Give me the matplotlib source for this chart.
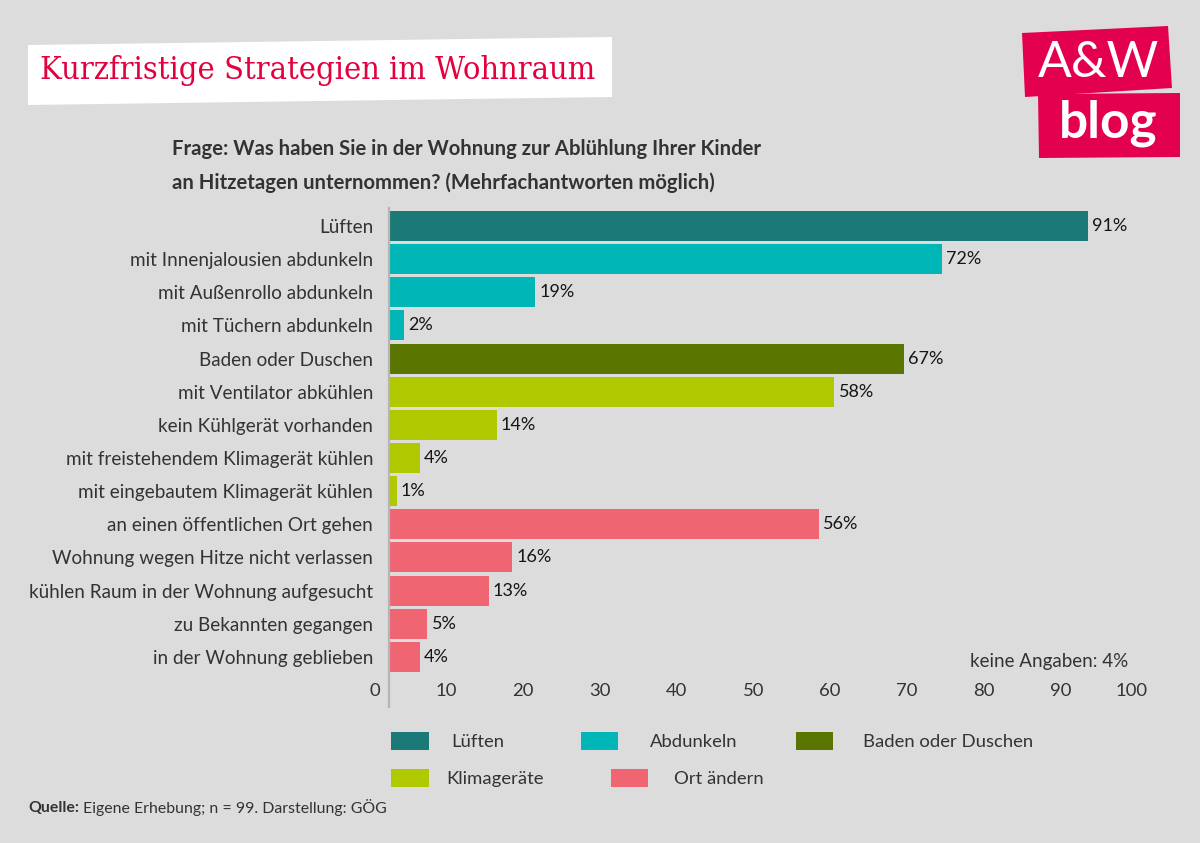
import matplotlib
matplotlib.use("Agg")
import matplotlib.pyplot as plt
from matplotlib.patches import Polygon, Rectangle
from matplotlib.transforms import ScaledTranslation

# ---------------- data ----------------
categories = [
    "Lüften",
    "mit Innenjalousien abdunkeln",
    "mit Außenrollo abdunkeln",
    "mit Tüchern abdunkeln",
    "Baden oder Duschen",
    "mit Ventilator abkühlen",
    "kein Kühlgerät vorhanden",
    "mit freistehendem Klimagerät kühlen",
    "mit eingebautem Klimagerät kühlen",
    "an einen öffentlichen Ort gehen",
    "Wohnung wegen Hitze nicht verlassen",
    "kühlen Raum in der Wohnung aufgesucht",
    "zu Bekannten gegangen",
    "in der Wohnung geblieben",
]
values = [91, 72, 19, 2, 67, 58, 14, 4, 1, 56, 16, 13, 5, 4]
groups = ["Lüften", "Abdunkeln", "Abdunkeln", "Abdunkeln", "Baden oder Duschen",
          "Klimageräte", "Klimageräte", "Klimageräte", "Klimageräte",
          "Ort ändern", "Ort ändern", "Ort ändern", "Ort ändern", "Ort ändern"]
group_names = ["Lüften", "Abdunkeln", "Baden oder Duschen", "Klimageräte", "Ort ändern"]
group_colors = ["#1b7a78", "#00b6b7", "#5a7400", "#b0c800", "#ef6672"]
xticks = [0, 10, 20, 30, 40, 50, 60, 70, 80, 90, 100]

title = "Kurzfristige Strategien im Wohnraum"
question = ("Frage: Was haben Sie in der Wohnung zur Ablühlung Ihrer Kinder\n"
            "an Hitzetagen unternommen? (Mehrfachantworten möglich)")
no_answer = "keine Angaben: 4%"

# ---------------- style ----------------
W, H = 1200, 843
BG = "#dcdcdc"
TXT = "#333333"
RED = "#e2003f"
FONT = ["Lato", "DejaVu Sans"]
plt.rcParams["font.family"] = FONT

fig = plt.figure(figsize=(W / 100, H / 100), dpi=100, facecolor=BG)


def fx(x):
    return x / W


def fy(y):
    return 1 - y / H


color_map = dict(zip(group_names, group_colors))

# axes placement (pixels)
ax_l, ax_r, ax_t, ax_b = 389, 1157, 208, 707
ax = fig.add_axes([fx(ax_l), fy(ax_b), (ax_r - ax_l) / W, (ax_b - ax_t) / H])
ax.set_facecolor(BG)

ypos = list(range(len(categories)))
ax.barh(ypos, values, height=0.905,
        color=[color_map[g] for g in groups], edgecolor="none", zorder=2)
ax.set_xlim(0, 100)
ax.set_ylim(14.51, -0.543)

for y, v in zip(ypos, values):
    ax.annotate(f"{v}%", xy=(v, y), xytext=(3, 0), textcoords="offset points",
                va="center", ha="left", fontsize=13, color="#151515")

ax.set_yticks(ypos)
ax.set_yticklabels(categories, fontsize=13.6, color=TXT)
ax.tick_params(axis="y", length=0, pad=11.5)

ax.set_xticks(xticks)
ax.set_xticklabels([str(t) for t in xticks], fontsize=13.3, color=TXT)
ax.tick_params(axis="x", length=0, pad=-17.0)
shift = ScaledTranslation(-9 / 100, 0, fig.dpi_scale_trans)
for lbl in ax.get_xticklabels():
    lbl.set_horizontalalignment("right")
    lbl.set_transform(lbl.get_transform() + shift)

for s in ["top", "right", "bottom"]:
    ax.spines[s].set_visible(False)
ax.spines["left"].set_color("#b5b5b5")
ax.spines["left"].set_linewidth(1.6)

ax.text(96.2, 13.15, no_answer, ha="right", va="center", fontsize=13.5, color=TXT)

# ---------------- title box ----------------
box = Polygon([(fx(28), fy(45)), (fx(612), fy(37)), (fx(612), fy(97)), (fx(28), fy(105))],
              closed=True, transform=fig.transFigure, facecolor="white", edgecolor="none")
fig.patches.append(box)
ttl = fig.text(fx(318), fy(71), title, ha="center", va="center", fontsize=24,
               color=RED, family=["DejaVu Serif"], fontstretch="condensed")
fig.canvas.draw()
tw = ttl.get_window_extent().width
if tw > 565:
    ttl.set_fontsize(24 * 557 / tw)

# ---------------- logo ----------------
logo1 = Polygon([(fx(1022), fy(33)), (fx(1168), fy(26)), (fx(1172), fy(88)), (fx(1025), fy(97))],
                closed=True, transform=fig.transFigure, facecolor="#e3004f", edgecolor="none")
logo2 = Polygon([(fx(1038), fy(94)), (fx(1180), fy(93)), (fx(1180), fy(157)), (fx(1039), fy(158))],
                closed=True, transform=fig.transFigure, facecolor="#e3004f", edgecolor="none")
fig.patches.extend([logo1, logo2])
fig.text(fx(1098), fy(63), "A&W", ha="center", va="center", fontsize=36,
         color="white", family=FONT, fontweight="normal")
fig.text(fx(1108), fy(123), "blog", ha="center", va="center", fontsize=37,
         color="white", family=FONT, fontweight="bold")

# ---------------- question ----------------
fig.text(fx(172), fy(166), question, ha="left", va="center", fontsize=14.6,
         color=TXT, fontweight="bold", linespacing=1.78)

# ---------------- legend ----------------
legend_items = [
    ("Lüften", 391, 429, 451, 732, 750),
    ("Abdunkeln", 581, 618, 650, 732, 750),
    ("Baden oder Duschen", 796, 833, 863, 732, 750),
    ("Klimageräte", 391, 429, 446, 769, 787),
    ("Ort ändern", 611, 648, 674, 769, 787),
]
for name, x0, x1, tx, y0, y1 in legend_items:
    fig.patches.append(Rectangle((fx(x0), fy(y1)), (x1 - x0) / W, (y1 - y0) / H,
                                 transform=fig.transFigure,
                                 facecolor=color_map[name], edgecolor="none"))
    fig.text(fx(tx), fy((y0 + y1) / 2 + 1), name, ha="left", va="center",
             fontsize=13.3, color=TXT)

# ---------------- source ----------------
t1 = fig.text(fx(28), fy(808), "Quelle:", ha="left", va="center", fontsize=11.4,
              color=TXT, fontweight="bold")
fig.canvas.draw()
bb = t1.get_window_extent()
fig.text(bb.x1 / W + 4 / W, fy(808), "Eigene Erhebung; n = 99. Darstellung: GÖG",
         ha="left", va="center", fontsize=11.4, color=TXT)

fig.savefig("out.png", dpi=100, facecolor=BG)
